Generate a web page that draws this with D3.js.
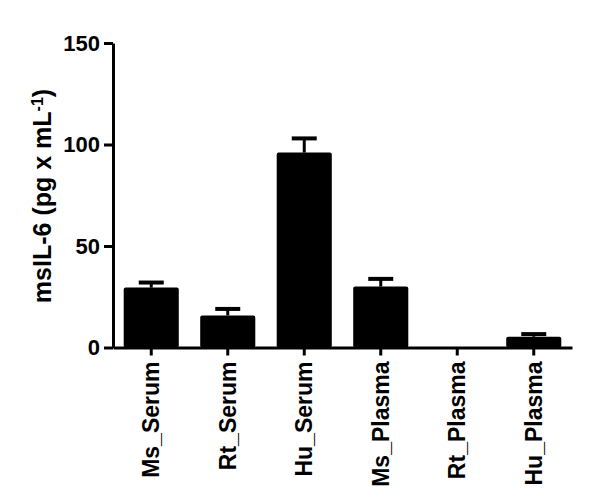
<html>
<head>
  <style>
    body { margin: 0; background: white; font-family: "Liberation Sans", Arial, sans-serif; }
    .axis path, .axis line { stroke: black; stroke-width: 3; }
    .axis text { font-weight: bold; fill: black; }
  </style>
</head>
<body>
  <svg id="chart"></svg>
  <script src="https://cdn.jsdelivr.net/npm/d3@7"></script>
  <script>
    // data
    var groups = ["Ms_Serum", "Rt_Serum", "Hu_Serum", "Ms_Plasma", "Rt_Plasma", "Hu_Plasma"];
    var means = [29.5, 15.8, 96, 30, 0, 5.3];
    var errors = [2.5, 3.2, 7, 3.8, 0, 1.3];
    var yTicks = [0, 50, 100, 150];

    var width = 600, height = 501;
    var svg = d3.select("#chart").attr("width", width).attr("height", height);

    var x = d3.scaleBand()
      .domain(groups)
      .range([113, 572])
      .paddingInner(0.28)
      .paddingOuter(0.14);

    var y = d3.scaleLinear()
      .domain([0, 150])
      .range([347.5, 43]);

    var data = groups.map(function (g, i) {
      return { name: g, mean: means[i], err: errors[i] };
    });

    // bars
    svg.append("g").selectAll("rect")
      .data(data)
      .join("rect")
      .attr("x", d => x(d.name))
      .attr("y", d => y(d.mean))
      .attr("width", x.bandwidth())
      .attr("height", d => y(0) - y(d.mean))
      .attr("rx", 2)
      .attr("fill", "black");

    // error bars (upper only)
    var eb = svg.append("g").selectAll("g")
      .data(data.filter(d => d.err > 0))
      .join("g");
    eb.append("line")
      .attr("x1", d => x(d.name) + x.bandwidth() / 2)
      .attr("x2", d => x(d.name) + x.bandwidth() / 2)
      .attr("y1", d => y(d.mean))
      .attr("y2", d => y(d.mean + d.err))
      .attr("stroke", "black")
      .attr("stroke-width", 3);
    eb.append("line")
      .attr("x1", d => x(d.name) + x.bandwidth() / 2 - 12.5)
      .attr("x2", d => x(d.name) + x.bandwidth() / 2 + 12.5)
      .attr("y1", d => y(d.mean + d.err))
      .attr("y2", d => y(d.mean + d.err))
      .attr("stroke", "black")
      .attr("stroke-width", 4);

    // y axis
    var yAxis = svg.append("g")
      .attr("class", "axis")
      .attr("transform", "translate(113,0)")
      .call(d3.axisLeft(y).tickValues(yTicks).tickSize(9).tickSizeOuter(0).tickPadding(4));
    yAxis.selectAll("text").style("font-size", "22px");

    // x axis
    var xAxis = svg.append("g")
      .attr("class", "axis")
      .attr("transform", "translate(0," + y(0) + ")")
      .call(d3.axisBottom(x).tickSize(8).tickSizeOuter(0));
    xAxis.selectAll("text")
      .style("font-size", "23px")
      .attr("transform", "rotate(-90)")
      .attr("text-anchor", "end")
      .attr("x", -14)
      .attr("y", 0)
      .attr("dy", "0.35em");

    // y title
    var title = svg.append("text")
      .attr("transform", "translate(51,196) rotate(-90)")
      .attr("text-anchor", "middle")
      .style("font-size", "25px")
      .style("font-weight", "bold");
    title.append("tspan").text("msIL-6 (pg x mL");
    title.append("tspan").text("-1").attr("dy", "-0.5em").style("font-size", "16px");
    title.append("tspan").text(")").attr("dy", "0.32em");
  </script>
</body>
</html>
